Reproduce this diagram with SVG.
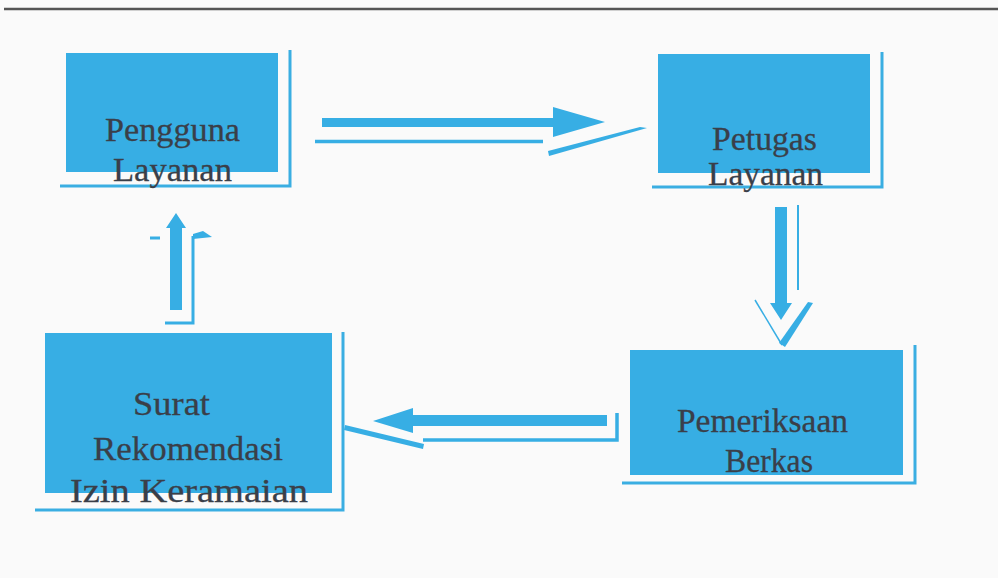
<svg xmlns="http://www.w3.org/2000/svg" width="998" height="578" viewBox="0 0 998 578">
<style>
.box{fill:#37aee4}
.sh{stroke:#3aaee2;stroke-width:3;fill:none}
.t{font-family:"Liberation Serif","Times New Roman",serif;font-size:34px;fill:#3a3f49;stroke:#3a3f49;stroke-width:0.3}
.ar{fill:#37aee4;stroke:none}
.ln{stroke:#37aee4;fill:none}
</style>
<rect width="998" height="578" fill="#fafafa"/>
<line x1="4" y1="9" x2="998" y2="9" stroke="#555" stroke-width="2.5"/>
<g id="node-pengguna">
<rect class="box" x="66" y="53" width="212" height="119"/>
<polyline class="sh" points="60,186 290,186 290,50"/>
<text class="t" x="105" y="141" textLength="135" lengthAdjust="spacingAndGlyphs">Pengguna</text>
<text class="t" x="113" y="181" textLength="119" lengthAdjust="spacingAndGlyphs">Layanan</text>
</g>
<g id="node-petugas">
<rect class="box" x="658" y="54" width="212" height="119"/>
<polyline class="sh" points="652,187 882,187 882,52"/>
<text class="t" x="712" y="150" textLength="105" lengthAdjust="spacingAndGlyphs">Petugas</text>
<text class="t" x="708" y="185" textLength="115" lengthAdjust="spacingAndGlyphs">Layanan</text>
</g>
<g id="node-pemeriksaan">
<rect class="box" x="630" y="350" width="273" height="125"/>
<polyline class="sh" points="622,483 915,483 915,345"/>
<text class="t" x="677" y="432" textLength="171" lengthAdjust="spacingAndGlyphs">Pemeriksaan</text>
<text class="t" x="725" y="472" textLength="88" lengthAdjust="spacingAndGlyphs">Berkas</text>
</g>
<g id="node-surat">
<rect class="box" x="45" y="333" width="287" height="160"/>
<polyline class="sh" points="35,510 343,510 343,332"/>
<text class="t" x="133" y="415" textLength="77" lengthAdjust="spacingAndGlyphs">Surat</text>
<text class="t" x="93" y="460" textLength="190" lengthAdjust="spacingAndGlyphs">Rekomendasi</text>
<text class="t" x="70" y="502" textLength="238" lengthAdjust="spacingAndGlyphs">Izin Keramaian</text>
</g>
<g id="connectors">
<polygon class="ar" points="322,118 553,118 553,107 605,122 553,137 553,127 322,127"/>
<line class="ln" x1="315" y1="141.5" x2="543" y2="141.5" stroke-width="3.5"/>
<polygon class="ar" points="548,151 640,127 647,128 549,156"/>
<polygon class="ar" points="775,207 787,207 787,303 792,303 781,320 770,303 775,303"/>
<line class="ln" x1="798" y1="205" x2="798" y2="290" stroke-width="2"/>
<line class="ln" x1="755" y1="300" x2="782" y2="345" stroke-width="1.5"/>
<polygon class="ar" points="779,343 808,302 813,303 785,347"/>
<polygon class="ar" points="607,415 413,415 413,408 373,421 413,433 413,426 607,426"/>
<polyline class="ln" points="423,440 617,440 617,413" stroke-width="3.5"/>
<polygon class="ar" points="345,425 424,444 423,449 344,430"/>
<polygon class="ar" points="170,310 182,310 182,228 186,228 176,213 166,228 170,228"/>
<polyline class="ln" points="165,323 193,323 193,236" stroke-width="3"/>
<polygon class="ar" points="193,234 203,231 212,237 193,239"/>
<line class="ln" x1="150" y1="238" x2="160" y2="238" stroke-width="3"/>
</g>
</svg>
